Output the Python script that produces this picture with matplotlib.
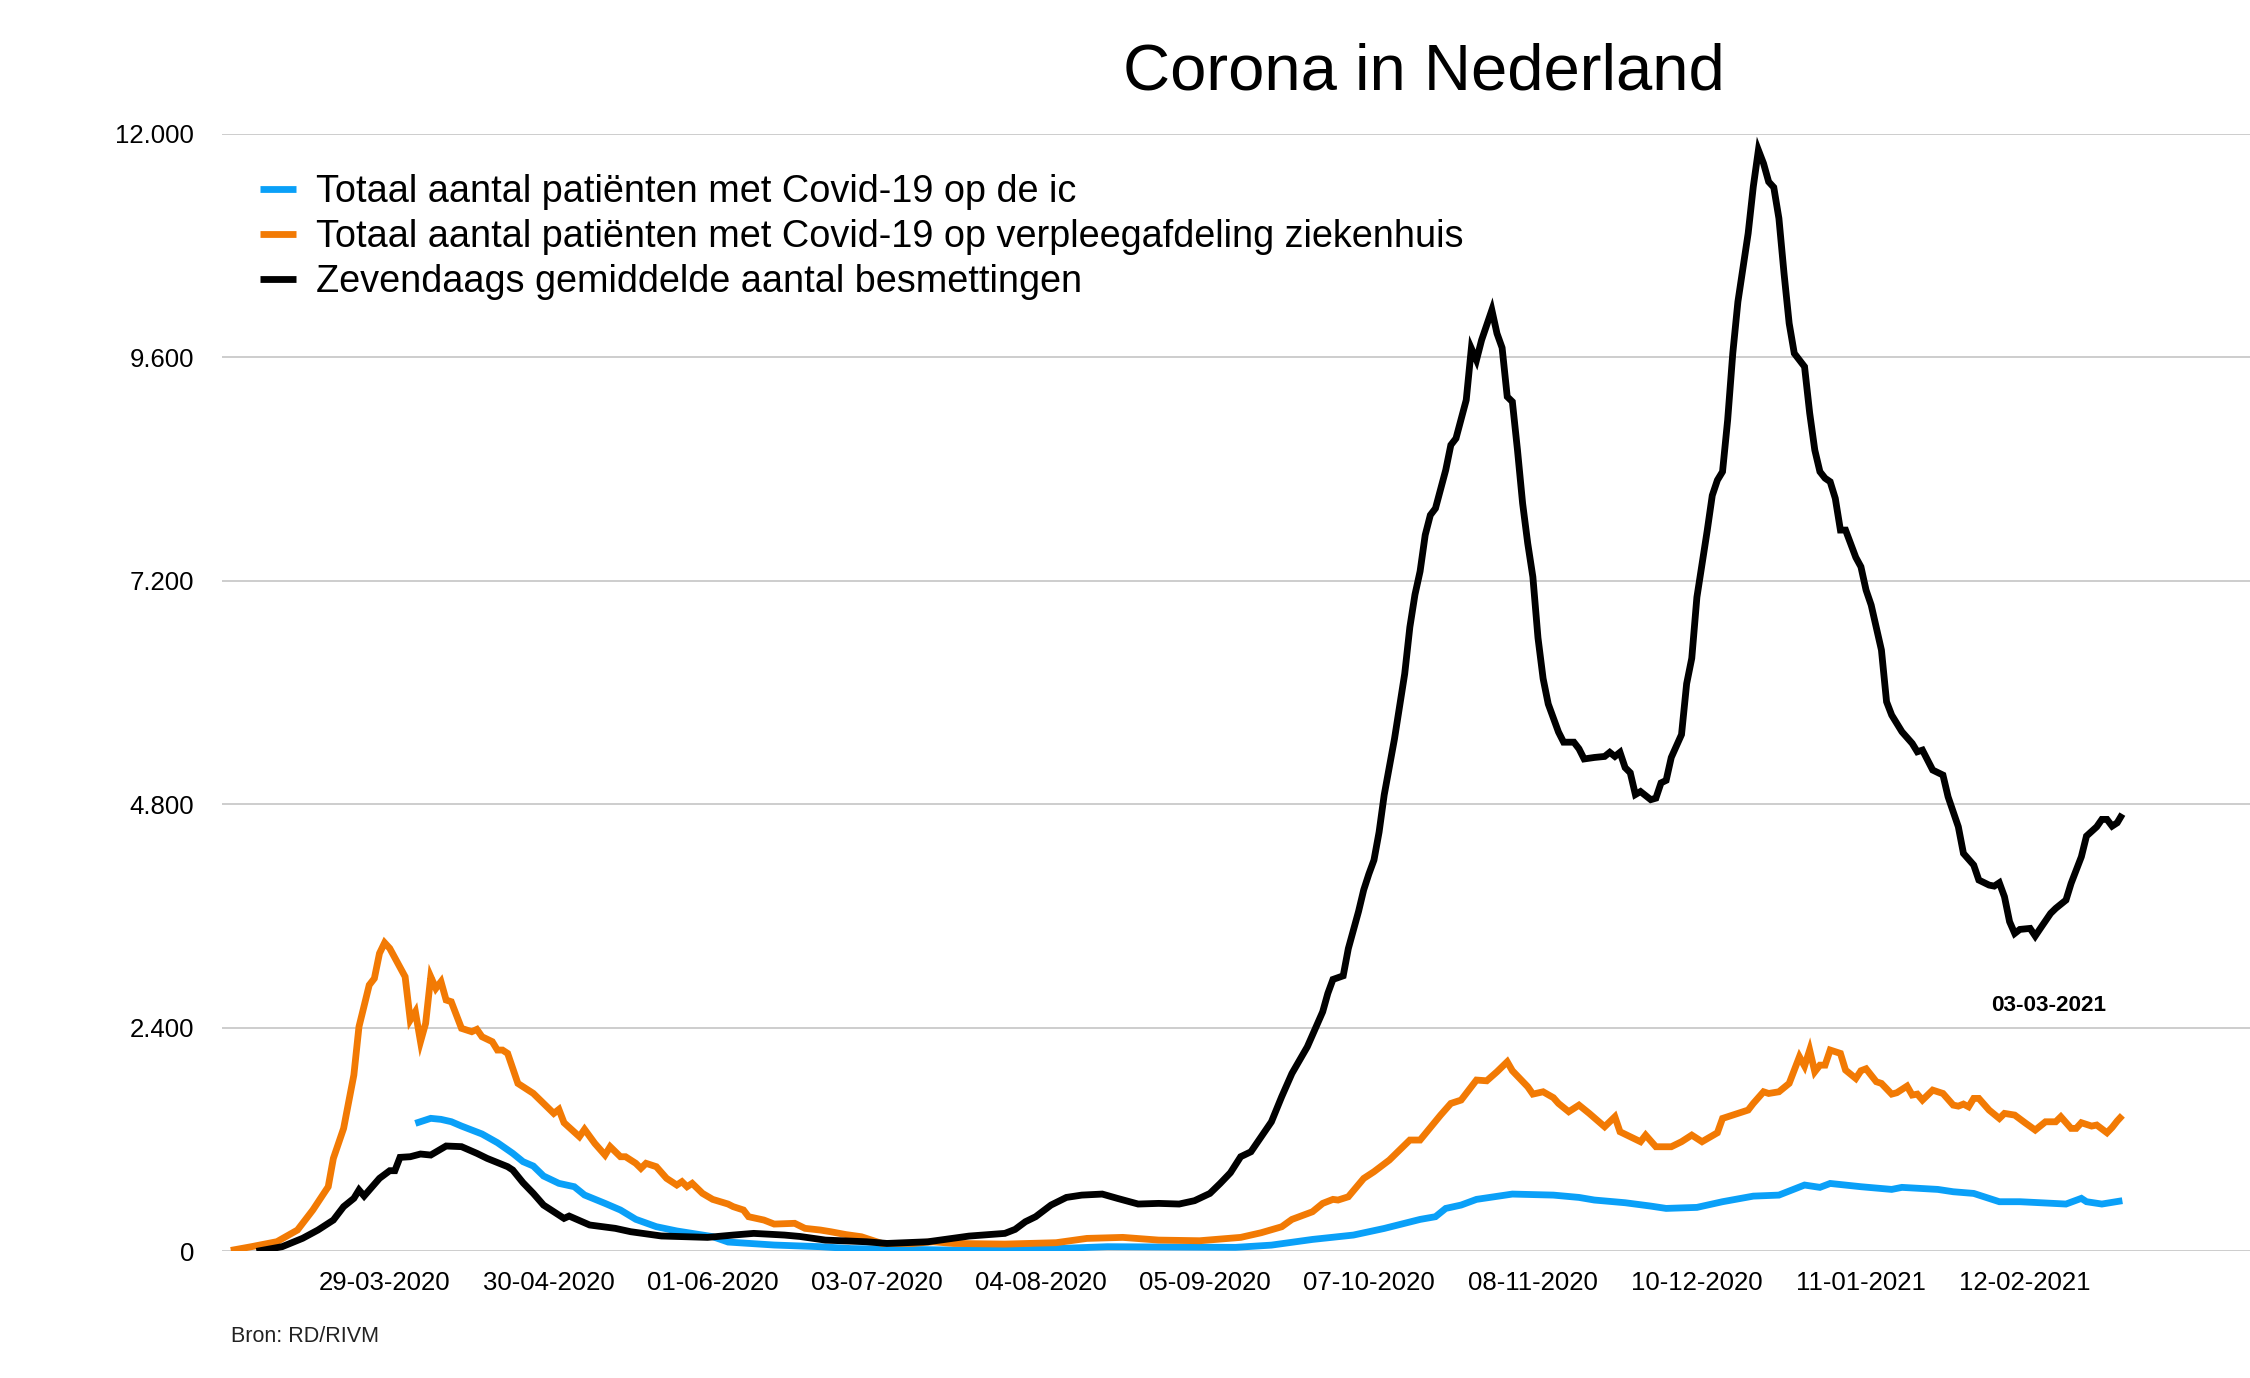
import numpy as np
import pandas as pd
import matplotlib
matplotlib.use('Agg')
import matplotlib.pyplot as plt
from matplotlib.ticker import FuncFormatter

plt.rcParams['font.family'] = ['Liberation Sans', 'DejaVu Sans']

## Data, days counted from 27-02-2020 ##
start = pd.Timestamp('2020-02-27')

# IC-patienten (blauw)
ic_day = [37, 40, 42, 44, 46, 50, 53, 56, 58, 60, 62, 65, 68, 70, 74, 77, 80, 84, 88, 95,
          98, 107, 116, 122, 142, 154, 172, 197, 204, 212, 220, 226, 233, 236, 238, 241, 244,
          251, 259, 264, 267, 273, 278, 281, 287, 292, 298, 303, 308, 311, 313, 319, 325, 327,
          334, 337, 341, 346, 350, 354, 359, 362, 363, 366, 370]
ic_val = [1374, 1428, 1417, 1392, 1345, 1260, 1167, 1052, 963, 916, 809, 730, 694, 605, 515,
          444, 344, 265, 219, 158, 100, 68, 50, 30, 14, 14, 50, 43, 67, 128, 175, 246, 343,
          372, 461, 497, 558, 615, 604, 579, 551, 522, 486, 461, 472, 533, 593, 604, 712, 687,
          729, 694, 665, 687, 665, 640, 622, 533, 533, 522, 508, 569, 533, 508, 544]

# verpleegafdeling ziekenhuis (oranje)
zh_day = [1, 5, 10, 14, 17, 20, 21, 23, 25, 26, 28, 29, 30, 31, 32, 35, 36, 37, 38, 39, 40,
          41, 42, 43, 44, 46, 48, 49, 50, 52, 53, 54, 55, 57, 59, 60, 62, 64, 65, 66, 69, 70,
          72, 74, 75, 76, 77, 78, 80, 81, 82, 84, 86, 88, 89, 90, 91, 93, 95, 98, 99, 101, 102,
          105, 107, 111, 113, 116, 118, 121, 124, 128, 134, 138, 142, 152, 162, 168, 175, 182,
          190, 198, 202, 206, 208, 212, 214, 216, 217, 219, 222, 224, 227, 230, 231, 233, 237,
          239, 241, 244, 246, 248, 250, 251, 254, 255, 257, 259, 260, 262, 264, 266, 269, 271,
          272, 274, 276, 277, 279, 282, 284, 286, 288, 291, 292, 294, 297, 298, 300, 301, 303,
          305, 307, 308, 309, 310, 311, 312, 313, 315, 316, 318, 319, 320, 322, 323, 325, 326,
          328, 329, 330, 331, 333, 335, 337, 338, 339, 340, 341, 342, 344, 346, 347, 349, 351,
          353, 355, 357, 358, 360, 361, 362, 364, 365, 367, 368, 369, 370]
zh_val = [10, 50, 104, 229, 444, 694, 998, 1320, 1893, 2412, 2859, 2930, 3199, 3313, 3253,
          2948, 2483, 2573, 2251, 2447, 2948, 2823, 2895, 2698, 2680, 2394, 2358, 2383, 2304,
          2251, 2161, 2161, 2125, 1803, 1732, 1696, 1589, 1481, 1524, 1381, 1231, 1310, 1159,
          1034, 1124, 1070, 1016, 1016, 945, 891, 945, 909, 784, 712, 748, 694, 730, 623, 558,
          508, 480, 444, 372, 336, 293, 301, 247, 229, 211, 180, 157, 85, 85, 103, 85, 78, 93,
          139, 150, 121, 114, 150, 200, 264, 343, 425, 515, 558, 551, 586, 783, 855, 980, 1141,
          1195, 1195, 1463, 1588, 1624, 1839, 1831, 1928, 2035, 1939, 1767, 1688, 1713, 1650,
          1588, 1499, 1570, 1481, 1338, 1445, 1284, 1230, 1177, 1248, 1123, 1123, 1177, 1248,
          1177, 1273, 1427, 1463, 1517, 1588, 1713, 1695, 1713, 1803, 2089, 1989, 2161, 1928,
          1999, 1999, 2161, 2125, 1946, 1856, 1939, 1960, 1821, 1803, 1688, 1703, 1774, 1678,
          1688, 1624, 1731, 1695, 1570, 1559, 1581, 1552, 1642, 1642, 1517, 1427, 1481, 1463,
          1381, 1302, 1391, 1391, 1445, 1320, 1320, 1381, 1345, 1356, 1273, 1330, 1400, 1460]

# zevendaags gemiddelde besmettingen (zwart)
bes_day = [6, 11, 15, 18, 21, 23, 25, 26, 27, 30, 32, 33, 34, 36, 38, 40, 43, 46, 49, 51, 55,
           56, 58, 60, 62, 64, 66, 67, 71, 76, 79, 85, 94, 99, 103, 109, 112, 117, 125, 129,
           137, 145, 152, 154, 156, 158, 161, 164, 167, 171, 174, 178, 182, 186, 189, 192, 194,
           196, 198, 200, 202, 204, 206, 208, 211, 213, 214, 215, 216, 218, 219, 220, 221, 222,
           223, 224, 225, 226, 227, 228, 229, 230, 231, 232, 233, 234, 235, 236, 238, 239, 240,
           242, 243, 244, 245, 247, 248, 249, 250, 251, 252, 253, 254, 255, 256, 257, 258, 260,
           261, 263, 264, 265, 267, 269, 270, 271, 272, 273, 274, 275, 276, 278, 279, 280, 281,
           282, 284, 285, 286, 287, 289, 290, 291, 292, 293, 294, 295, 297, 298, 299, 300, 301,
           302, 303, 304, 305, 306, 308, 309, 310, 311, 312, 313, 314, 315, 316, 318, 319, 320,
           321, 323, 324, 325, 327, 329, 330, 331, 333, 335, 336, 338, 339, 341, 342, 344, 345,
           346, 347, 348, 349, 350, 352, 353, 354, 356, 357, 359, 360, 362, 363, 365, 366, 367,
           368, 369, 370]
bes_val = [0, 50, 140, 229, 336, 480, 569, 659, 594, 784, 866, 866, 1009, 1016, 1045, 1034,
           1131, 1124, 1052, 998, 909, 873, 737, 623, 497, 426, 354, 379, 283, 247, 211, 165,
           150, 175, 193, 175, 160, 121, 103, 85, 103, 164, 193, 236, 318, 372, 497, 579, 604,
           615, 568, 508, 515, 508, 544, 622, 729, 844, 1016, 1069, 1230, 1391, 1660, 1910,
           2196, 2447, 2572, 2769, 2919, 2958, 3250, 3450, 3650, 3880, 4050, 4200, 4500, 4900,
           5200, 5500, 5850, 6200, 6700, 7050, 7300, 7690, 7904, 7976, 8387, 8656, 8727, 9139,
           9693, 9568, 9783, 10105, 9854, 9700, 9175, 9121, 8602, 8030, 7600, 7241, 6586, 6149,
           5876, 5575, 5466, 5466, 5395, 5286, 5302, 5313, 5357, 5313, 5357, 5193, 5138, 4904,
           4936, 4849, 4865, 5029, 5056, 5302, 5548, 6094, 6367, 7022, 7732, 8115, 8279, 8370,
           8924, 9640, 10194, 10928, 11429, 11822, 11679, 11482, 11422, 11089, 10498, 9962,
           9640, 9497, 9000, 8602, 8370, 8300, 8262, 8083, 7743, 7743, 7450, 7349, 7099, 6938,
           6455, 5900, 5757, 5578, 5453, 5363, 5381, 5167, 5113, 4880, 4558, 4272, 4147, 3986,
           3932, 3921, 3957, 3807, 3539, 3413, 3456, 3467, 3385, 3467, 3628, 3682, 3771, 3950,
           4236, 4458, 4558, 4637, 4637, 4565, 4601, 4694]

tick_labels = ['29-03-2020', '30-04-2020', '01-06-2020', '03-07-2020', '04-08-2020',
               '05-09-2020', '07-10-2020', '08-11-2020', '10-12-2020', '11-01-2021',
               '12-02-2021']
y_ticks = [0, 2400, 4800, 7200, 9600, 12000]

labels = ['Totaal aantal patiënten met Covid-19 op de ic',
          'Totaal aantal patiënten met Covid-19 op verpleegafdeling ziekenhuis',
          'Zevendaags gemiddelde aantal besmettingen']
colors = ['#0aa0f8', '#f27a04', '#000000']


def to_dates(days):
    return start + pd.to_timedelta(days, unit='D')


## Figure ##
fig = plt.figure(figsize=(22.5, 13.78), dpi=100)
ax = fig.add_axes([0.0987, 0.0919, 0.9013, 0.8112])

series = [(ic_day, ic_val), (zh_day, zh_val), (bes_day, bes_val)]
for (d, v), lab, col in zip(series, labels, colors):
    ax.plot(to_dates(d), v, color=col, lw=4.9, label=lab,
            solid_joinstyle='miter', solid_capstyle='butt')

ax.set_xlim(start - pd.Timedelta(hours=17), start + pd.Timedelta(days=394.9))
ax.set_ylim(0, 12000)

ax.set_xticks(pd.to_datetime(tick_labels, format='%d-%m-%Y'))
ax.set_xticklabels(tick_labels)
ax.set_yticks(y_ticks)
ax.yaxis.set_major_formatter(FuncFormatter(lambda v, p: f'{int(v):,}'.replace(',', '.')))

ax.tick_params(axis='both', length=0, labelsize=18.5)
ax.tick_params(axis='y', pad=20)
ax.tick_params(axis='x', pad=14)
ax.yaxis.grid(True, color='#c0c0c0', lw=1.1)
ax.set_axisbelow(True)
for s in ax.spines.values():
    s.set_visible(False)

leg = ax.legend(loc='upper left', bbox_to_anchor=(0.1156, 0.8736), bbox_transform=fig.transFigure,
                frameon=False, fontsize=27.3, handlelength=0.95, handletextpad=0.53,
                labelspacing=0.24, borderpad=0, borderaxespad=0)

fig.text(0.633, 0.9347, 'Corona in Nederland', ha='center', va='baseline', fontsize=47)
fig.text(0.9107, 0.2663, '03-03-2021', ha='center', va='baseline', fontsize=16.2, fontweight='bold')
fig.text(0.1025, 0.0261, 'Bron: RD/RIVM', ha='left', va='baseline', fontsize=15.5, color='#222222')

fig.savefig('out.png', dpi=100)
